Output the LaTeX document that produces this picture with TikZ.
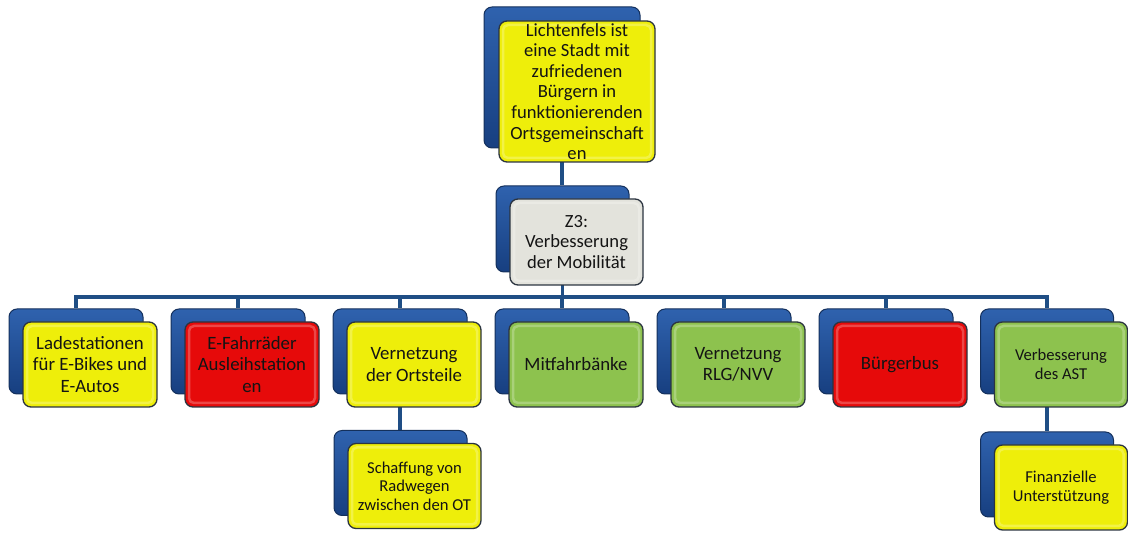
\documentclass[tikz,border=0pt]{standalone}
\usepackage{fontspec}
\setmainfont{Carlito}
\usetikzlibrary{backgrounds}
\definecolor{bkTop}{HTML}{2F62AE}
\definecolor{bkBot}{HTML}{173F80}
\definecolor{bkEdge}{HTML}{14305C}
\definecolor{frEdge}{HTML}{2B3440}
\definecolor{cYel}{HTML}{EEEE0A}
\definecolor{cRed}{HTML}{E60A0A}
\definecolor{cGrn}{HTML}{8DC24E}
\definecolor{cGry}{HTML}{E3E3DC}
\definecolor{cLine}{HTML}{1F4E85}
\definecolor{txt}{HTML}{141414}
\begin{document}
\begin{tikzpicture}[x=1pt,y=-1pt,
  bk/.style={rounded corners=8pt, draw=bkEdge, line width=1pt, top color=bkTop, bottom color=bkBot, inner sep=0pt},
  fr/.style={rounded corners=8pt, draw=frEdge, line width=1.3pt, inner sep=0pt, align=center, text=txt,
    path picture={\draw[white, opacity=0.25, line width=2.5pt, rounded corners=5pt]
      ([shift={(4pt,-4pt)}]path picture bounding box.north west) rectangle
      ([shift={(-4pt,4pt)}]path picture bounding box.south east);}},
  big/.style={font=\fontsize{18.6}{20.6}\selectfont},
  mid/.style={font=\fontsize{18.8}{21.6}\selectfont},
  sml/.style={font=\fontsize{16.6}{18.5}\selectfont},
  topsz/.style={minimum width=156pt, minimum height=141pt},
  zsz/.style={minimum width=133pt, minimum height=86pt},
  lsz/.style={minimum width=134pt, minimum height=85pt},
  csz/.style={minimum width=133pt, minimum height=85pt},
  conn/.style={draw=cLine, line width=3.2pt}]
\useasboundingbox (0,0) rectangle (1128,534);

% top
\node[bk, topsz] (tb) at (562,77.5) {};
\node[fr, topsz, big, fill=cYel] (tf) at (577,91.5) {Lichtenfels ist\\eine Stadt mit\\zufriedenen\\Bürgern in\\funktionierenden\\Ortsgemeinschaft\\en};

% Z3
\node[bk, zsz] (zb) at (562.5,229) {};
\node[fr, zsz, big, fill=cGry] (zf) at (576.5,242) {Z3:\\Verbesserung\\der Mobilität};

% level 2
\node[bk, lsz] (b1) at (76,351.5) {};
\node[fr, lsz, mid, fill=cYel] (f1) at (90,364.5) {Ladestationen\\für E-Bikes und\\E-Autos};
\node[bk, lsz] (b2) at (238,351.5) {};
\node[fr, lsz, mid, fill=cRed] (f2) at (252,364.5) {E-Fahrräder\\Ausleihstation\\en};
\node[bk, lsz] (b3) at (400,351.5) {};
\node[fr, lsz, mid, fill=cYel] (f3) at (414,364.5) {Vernetzung\\der Ortsteile};
\node[bk, lsz] (b4) at (562,351.5) {};
\node[fr, lsz, mid, fill=cGrn] (f4) at (576,364.5) {Mitfahrbänke};
\node[bk, lsz] (b5) at (724,351.5) {};
\node[fr, lsz, mid, fill=cGrn] (f5) at (738,364.5) {Vernetzung\\RLG/NVV};
\node[bk, lsz] (b6) at (886,351.5) {};
\node[fr, lsz, mid, fill=cRed] (f6) at (900,364.5) {Bürgerbus};
\node[bk, csz] (b7) at (1047,351.5) {};
\node[fr, csz, sml, fill=cGrn] (f7) at (1061,364.5) {Verbesserung\\des AST};

% level 3
\node[bk, csz] (c1b) at (400.5,473) {};
\node[fr, csz, sml, fill=cYel] (c1f) at (414.5,486) {Schaffung von\\Radwegen\\zwischen den OT};
\node[bk, csz] (c2b) at (1047,474.5) {};
\node[fr, csz, sml, fill=cYel] (c2f) at (1061,487.5) {Finanzielle\\Unterstützung};

\coordinate (bus) at (0,297);
\begin{pgfonlayer}{background}
\draw[conn] (tb.south) -- (tb.south |- zb.north);
\foreach \c in {b1,b2,b3,b4,b5,b6,b7}{
  \draw[conn] (zb.south) -- (zb.south |- bus) -| (\c.north);
}
\draw[conn] (b3.south) -- (b3.south |- c1b.north);
\draw[conn] (b7.south) -- (b7.south |- c2b.north);
\end{pgfonlayer}
\end{tikzpicture}
\end{document}
